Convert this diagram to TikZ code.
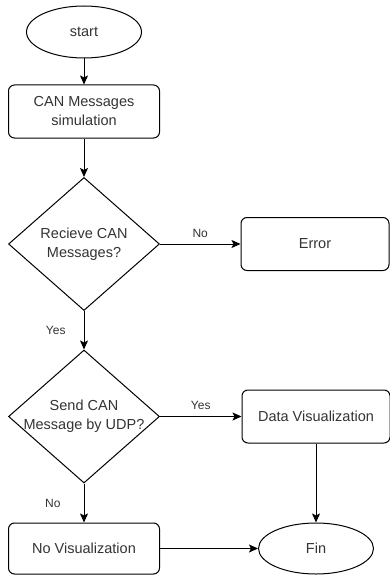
\documentclass[tikz,border=0pt]{standalone}
\usepackage{fontspec}
\setmainfont{Liberation Sans}
\usepackage{tikz}
\usetikzlibrary{shapes.geometric,arrows.meta}

\begin{document}
\begin{tikzpicture}[x=1pt,y=-1pt,
		every node/.style={text=black!80,font=\fontsize{14.5}{19}\selectfont,align=center,inner sep=0pt},
		term/.style={ellipse,draw,line width=1pt,minimum width=115pt,minimum height=52pt},
		proc/.style={rectangle,draw,line width=1pt,rounded corners=6pt,minimum width=148pt,minimum height=53pt},
		test/.style={diamond,draw,line width=1pt,minimum width=151pt,minimum height=133pt},
		flow/.style={line width=1pt,-{Stealth[length=9pt,width=8pt,inset=2pt]}},
		lbl/.style={font=\fontsize{12}{14}\selectfont}]
				\useasboundingbox (0,0) rectangle (389,575);
				\node[term] (start) at (84,32) {start};
				\node[proc,minimum width=151pt] (sim) at (84,111.5) {CAN Messages\\simulation};
				\node[test,label={center:Recieve CAN\\Messages?}] (recv) at (84,244) {};
				\node[proc] (err) at (315,244) {Error};
				\node[test,label={center:Send CAN\\Message by UDP?}] (send) at (84,416.5) {};
				\node[proc] (vis) at (316,416.5) {Data Visualization};
				\node[proc,minimum width=151pt,minimum height=51pt] (novis) at (84,548.5) {No Visualization};
				\node[term,minimum height=51pt] (fin) at (316,548.5) {Fin};
				\draw[flow] (start) -- (sim);
				\draw[flow] (sim) -- (recv);
				\draw[flow] (recv) -- node[lbl,above=6pt] {No} (err);
				\draw[flow] (recv) -- node[lbl,left=18pt] {Yes} (send);
				\draw[flow] (send) -- node[lbl,above=6pt] {Yes} (vis);
				\draw[flow] (send) -- node[lbl,left=23pt] {No} (novis);
				\draw[flow] (vis) -- (fin);
				\draw[flow] (novis) -- (fin);
			\end{tikzpicture}
\end{document}
